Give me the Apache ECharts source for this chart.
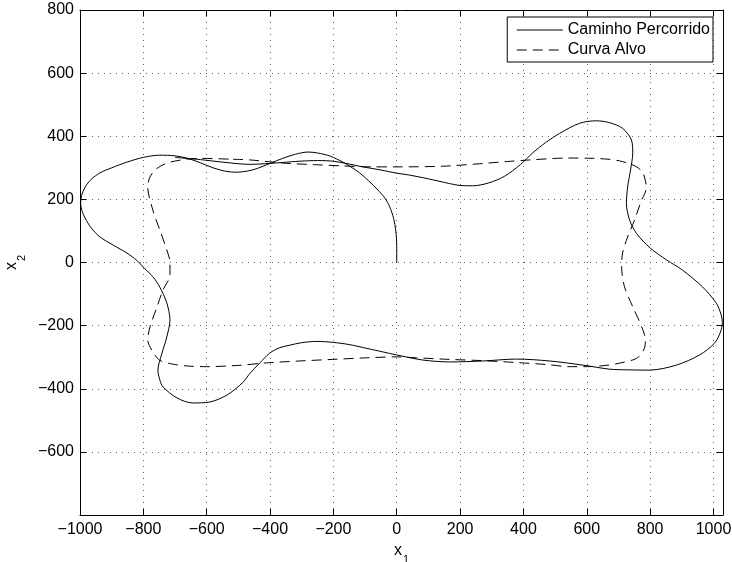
<!DOCTYPE html>
<html lang="pt">
<head>
<meta charset="UTF-8">
<title>Caminho Percorrido x Curva Alvo</title>
<script src="https://cdn.jsdelivr.net/npm/echarts@6/dist/echarts.min.js"></script>
<style>
  html, body { margin: 0; padding: 0; background: #fff; }
  #chart { width: 732px; height: 562px; }
</style>
</head>
<body>
<div id="chart"></div>
<script>
// legend names
var seriesNames = ['Caminho Percorrido', 'Curva Alvo'];

// path traversed, [x1, x2]
var caminho = [
  [0,0],[0,50],[-3,100],[-10,140],[-22,176],[-38,205],[-60,230],[-88,258],[-117,284],[-145,303],
  [-170,318],[-210,337],[-250,347],[-280,350],[-320,343],[-360,330],[-400,314],[-440,298],[-470,290],
  [-505,286],[-540,289],[-580,300],[-620,316],[-660,330],[-700,338],[-748,340],[-800,333],[-852,318],
  [-900,300],[-937,284],[-965,263],[-984,239],[-995,212],[-998,188],[-993,162],[-984,141],[-965,110],
  [-937,81],[-895,55],[-852,30],[-820,6],[-795,-20],[-770,-45],[-748,-78],[-726,-128],[-716,-182],
  [-726,-236],[-741,-287],[-754,-341],[-748,-372],[-738,-394],[-694,-429],[-644,-445],[-590,-442],
  [-536,-420],[-486,-380],[-464,-352],[-432,-318],[-401,-287],[-370,-270],[-338,-262],[-300,-254],
  [-252,-250],[-202,-253],[-150,-260],[-95,-272],[-45,-283],[0,-293],[82,-309],[167,-315],[272,-312],
  [378,-306],[483,-312],[587,-325],[672,-338],[725,-340],[798,-341],[883,-325],[956,-293],[1003,-256],
  [1022,-220],[1028,-190],[1024,-165],[1009,-129],[966,-78],[902,-24],[852,8],[800,46],[757,92],
  [735,135],[725,188],[729,240],[738,293],[745,346],[741,388],[713,425],[672,443],[631,449],[577,441],
  [514,409],[470,380],[430,348],[390,310],[340,273],[290,252],[240,243],[200,244],[167,250],[100,265],
  [40,277],[0,283],[-50,293],[-107,303],[-160,314],[-202,321],[-250,323],[-306,321],[-360,317],
  [-401,314],[-432,312],[-464,311],[-550,318],[-620,326],[-700,333]
];

// target curve, [x1, x2]
var curvaAlvo = [
  [-517,327],[-464,325],[-360,315],[-260,310],[-170,306],[-80,303],[0,303],[145,305],[250,312],
  [350,320],[420,325],[540,331],[619,330],[670,327],[703,322],[735,313],[757,303],[775,288],[782,271],
  [788,239],[783,218],[773,198],[751,135],[729,81],[713,30],[710,-13],[719,-77],[745,-140],[773,-203],
  [785,-246],[783,-268],[776,-283],[757,-304],[703,-319],[660,-326],[600,-330],[540,-330],[483,-324],
  [378,-317],[272,-311],[167,-307],[63,-302],[0,-299],[-95,-302],[-202,-307],[-306,-312],[-411,-318],
  [-500,-326],[-600,-330],[-660,-328],[-707,-322],[-748,-310],[-773,-278],[-786,-246],[-779,-204],
  [-757,-141],[-738,-87],[-716,-40],[-716,0],[-726,40],[-748,103],[-770,166],[-786,239],[-779,271],
  [-757,298],[-716,318],[-622,330],[-517,327]
];

// axis ranges and ticks
var xRange = [-1000, 1030];
var yRange = [-800, 800];
var tickStep = 200;

var fontFam = '"Liberation Sans", Arial, Helvetica, sans-serif';

function fmt(v) {
  if (v % tickStep !== 0) return '';
  return v < 0 ? '\u2212' + Math.abs(v) : String(v);
}

var gridLine = { show: true, lineStyle: { color: '#666', width: 1, type: [1, 5] } };
var boxLine = { show: true, onZero: false, lineStyle: { color: '#000', width: 1 } };
var innerTick = { show: true, inside: true, length: 6, lineStyle: { color: '#000' } };

var subName = {
  a: { fontSize: 16, fontFamily: fontFam, verticalAlign: 'top', lineHeight: 20 },
  b: { fontSize: 11, fontFamily: fontFam, verticalAlign: 'top', lineHeight: 14, padding: [12, 0, 0, 1] }
};

var chart = echarts.init(document.getElementById('chart'));

chart.setOption({
  animation: false,
  backgroundColor: '#fff',
  textStyle: { fontFamily: fontFam },
  grid: { left: 80, right: 9, top: 10, bottom: 47, containLabel: false, outerBoundsMode: 'none' },
  legend: {
    data: seriesNames,
    orient: 'vertical',
    right: 19,
    top: 17,
    padding: [5, 3, 4, 9],
    itemWidth: 46,
    itemHeight: 14,
    itemGap: 4,
    borderColor: '#000',
    borderWidth: 1,
    backgroundColor: '#fff',
    itemStyle: { opacity: 0 },
    lineStyle: { width: 1, opacity: 1 },
    textStyle: { fontSize: 16, color: '#000', fontFamily: fontFam }
  },
  xAxis: [{
    type: 'value', position: 'bottom',
    min: xRange[0], max: xRange[1], interval: tickStep,
    axisLine: boxLine, axisTick: innerTick, splitLine: gridLine,
    axisLabel: { fontSize: 16, color: '#000', margin: 7, formatter: fmt, fontFamily: fontFam },
    name: '{a|x}{b|1}', nameLocation: 'middle', nameGap: 19,
    nameTextStyle: { color: '#000', rich: subName }
  }, {
    type: 'value', position: 'top',
    min: xRange[0], max: xRange[1], interval: tickStep,
    axisLine: boxLine, axisTick: innerTick, splitLine: { show: false },
    axisLabel: { show: false }
  }],
  yAxis: [{
    type: 'value', position: 'left',
    min: yRange[0], max: yRange[1], interval: tickStep,
    axisLine: boxLine, axisTick: innerTick, splitLine: gridLine,
    axisLabel: {
      fontSize: 16, color: '#000', margin: 6, fontFamily: fontFam,
      formatter: function (v) { return v === yRange[0] ? '' : fmt(v); }
    },
    name: '{a|x}{b|2}', nameLocation: 'middle', nameGap: 46,
    nameTextStyle: { color: '#000', rich: subName }
  }, {
    type: 'value', position: 'right',
    min: yRange[0], max: yRange[1], interval: tickStep,
    axisLine: boxLine, axisTick: innerTick, splitLine: { show: false },
    axisLabel: { show: false }
  }],
  series: [{
    name: seriesNames[0],
    type: 'line',
    xAxisIndex: 0, yAxisIndex: 0,
    data: caminho,
    showSymbol: false, symbol: 'none',
    smooth: 0.3,
    lineStyle: { color: '#000', width: 1, type: 'solid' },
    itemStyle: { color: '#000' },
    z: 3
  }, {
    name: seriesNames[1],
    type: 'line',
    xAxisIndex: 0, yAxisIndex: 0,
    data: curvaAlvo,
    showSymbol: false, symbol: 'none',
    smooth: 0.3,
    lineStyle: { color: '#000', width: 1, type: [10, 6] },
    itemStyle: { color: '#000' },
    z: 2
  }]
});
</script>
</body>
</html>
